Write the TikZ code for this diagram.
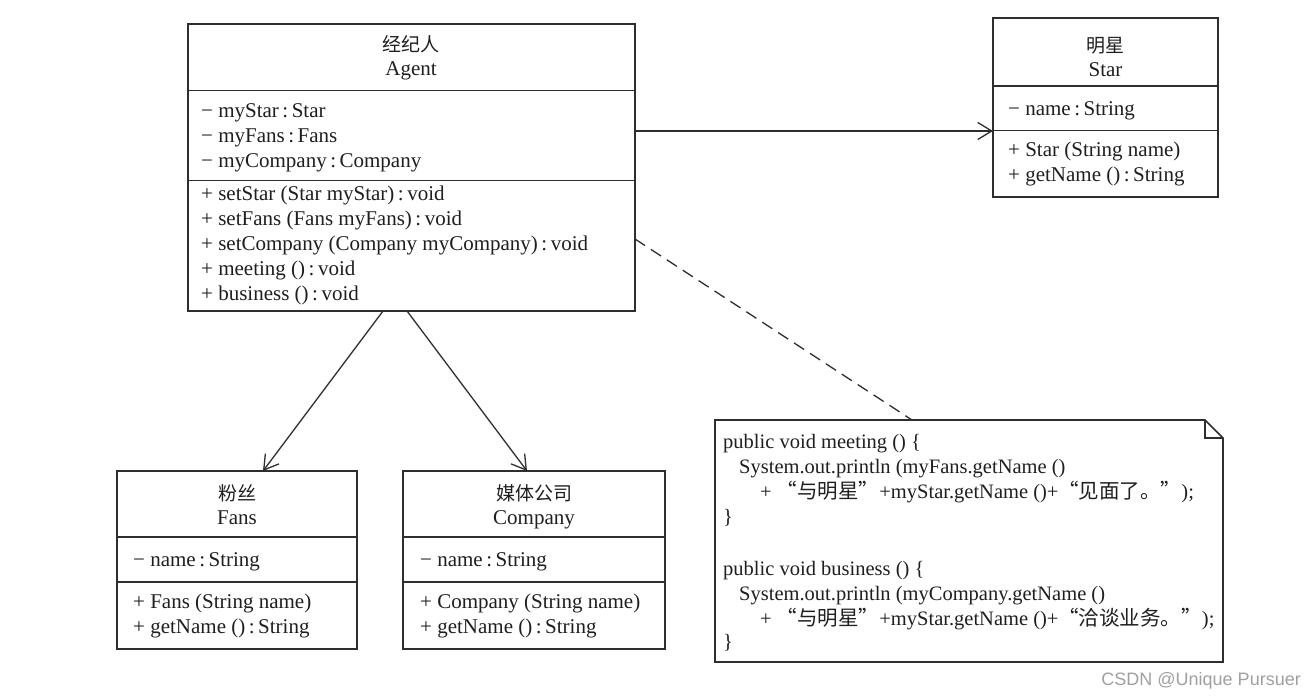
\documentclass[tikz,border=0pt]{standalone}
\usepackage{fontspec}
\setmainfont{Liberation Serif}
\newfontfamily\cjk{Noto Sans CJK SC}
\newfontfamily\wmfont{Liberation Sans}
\usetikzlibrary{arrows.meta}
\definecolor{ink}{HTML}{1F1F1F}
\definecolor{edge}{HTML}{2E2E2E}
\definecolor{wm}{HTML}{A0A0A0}
\newcommand\cl{\,:\,}
\tikzset{
  box/.style={draw=edge, line width=1.7pt, inner sep=0pt, outer sep=0pt},
  sep/.style={draw=edge, line width=1.5pt},
  txt/.style={anchor=base west, inner sep=0pt, text=ink, font=\fontsize{21}{25}\selectfont},
  code/.style={anchor=base west, inner sep=0pt, text=ink, font=\fontsize{20.5}{25}\selectfont},
  ttl/.style={anchor=base, inner sep=0pt, text=ink, font=\fontsize{21}{25}\selectfont},
  zh/.style={anchor=base, inner sep=0pt, text=ink, font=\fontsize{19}{25}\selectfont\cjk},
  assoc/.style={draw=edge, line width=1.3pt, -{Straight Barb[length=14pt,width=17pt,line width=1.3pt]}},
  anchorline/.style={draw=edge, line width=1.3pt, dash pattern=on 12pt off 7pt}
}
\begin{document}
\begin{tikzpicture}[x=1pt,y=-1pt]
\useasboundingbox[fill=white] (0,0) rectangle (1315,696);

% ---------- Agent ----------
\node[box, minimum width=447pt, minimum height=287pt] (agent) at (411.5,167.5) {};
\draw[sep] (agent.west |- 0,90.5) -- (agent.east |- 0,90.5);
\draw[sep] (agent.west |- 0,180.5) -- (agent.east |- 0,180.5);
\node[zh] (agentzh) at (411,51) {经纪人};
\node[ttl] (agenten) at (411,75.5) {Agent};
\node[txt] (a1) at (201,117) {− myStar\cl Star};
\node[txt] (a2) at (201,142) {− myFans\cl Fans};
\node[txt] (a3) at (201,167) {− myCompany\cl Company};
\node[txt] (m1) at (201,200) {+ setStar (Star myStar)\cl void};
\node[txt] (m2) at (201,225) {+ setFans (Fans myFans)\cl void};
\node[txt] (m3) at (201,250) {+ setCompany (Company myCompany)\cl void};
\node[txt] (m4) at (201,275) {+ meeting ()\cl void};
\node[txt] (m5) at (201,300) {+ business ()\cl void};

% ---------- Star ----------
\node[box, minimum width=225pt, minimum height=179pt] (star) at (1105.5,107.5) {};
\draw[sep] (star.west |- 0,86) -- (star.east |- 0,86);
\draw[sep] (star.west |- 0,130.5) -- (star.east |- 0,130.5);
\node[zh] (starzh) at (1105.5,52) {明星};
\node[ttl] (staren) at (1105.5,76) {Star};
\node[txt] (s1) at (1008,115) {− name\cl String};
\node[txt] (s2) at (1008,156) {+ Star (String name)};
\node[txt] (s3) at (1008,181) {+ getName ()\cl String};

% ---------- Fans ----------
\node[box, minimum width=240pt, minimum height=178pt] (fans) at (237,560) {};
\draw[sep] (fans.west |- 0,537) -- (fans.east |- 0,537);
\draw[sep] (fans.west |- 0,582) -- (fans.east |- 0,582);
\node[zh] (fanszh) at (237,500) {粉丝};
\node[ttl] (fansen) at (237,524) {Fans};
\node[txt] (f1) at (133,566) {− name\cl String};
\node[txt] (f2) at (133,608) {+ Fans (String name)};
\node[txt] (f3) at (133,633) {+ getName ()\cl String};

% ---------- Company ----------
\node[box, minimum width=262pt, minimum height=178pt] (comp) at (534,560) {};
\draw[sep] (comp.west |- 0,537) -- (comp.east |- 0,537);
\draw[sep] (comp.west |- 0,582) -- (comp.east |- 0,582);
\node[zh] (compzh) at (534,500) {媒体公司};
\node[ttl] (compen) at (534,524) {Company};
\node[txt] (c1) at (420,566) {− name\cl String};
\node[txt] (c2) at (420,608) {+ Company (String name)};
\node[txt] (c3) at (420,633) {+ getName ()\cl String};

% ---------- Note ----------
\node[inner sep=0pt, outer sep=0pt, minimum width=508pt, minimum height=242pt] (note) at (969,541) {};
\draw[box] (note.north west) -- ([xshift=-18pt]note.north east) -- ([yshift=-18pt]note.north east)
  -- (note.south east) -- (note.south west) -- cycle;
\draw[sep, line width=1.3pt] ([xshift=-18pt]note.north east) -- ([xshift=-18pt,yshift=-18pt]note.north east)
  -- ([yshift=-18pt]note.north east);
\node[code] (n1) at (723,448) {public void meeting () \{};
\node[code] (n2) at (739,473) {System.out.println (myFans.getName ()};
\node[code] (n3) at (760,498) {+ {\cjk “与明星”}+myStar.getName ()+{\cjk “见面了。”});};
\node[code] (n4) at (723,523) {\}};
\node[code] (n5) at (723,575) {public void business () \{};
\node[code] (n6) at (739,600) {System.out.println (myCompany.getName ()};
\node[code] (n7) at (760,625) {+ {\cjk “与明星”}+myStar.getName ()+{\cjk “洽谈业务。”});};
\node[code] (n8) at (723,648) {\}};

% ---------- Connectors ----------
\draw[assoc] (agent.east |- 0,131) -- (star.west |- 0,131);
\draw[assoc] (agent.south -| 383,0) -- (fans.north -| 263,0);
\draw[assoc] (agent.south -| 407,0) -- (comp.north -| 527,0);
\draw[anchorline] (agent.east |- 0,239) -- (note.north -| 912,0);

% ---------- Watermark ----------
\node[anchor=base east, inner sep=0pt, text=wm, font=\fontsize{18}{20}\selectfont\wmfont] (wmk) at (1301,685) {CSDN @Unique Pursuer};
\end{tikzpicture}
\end{document}
